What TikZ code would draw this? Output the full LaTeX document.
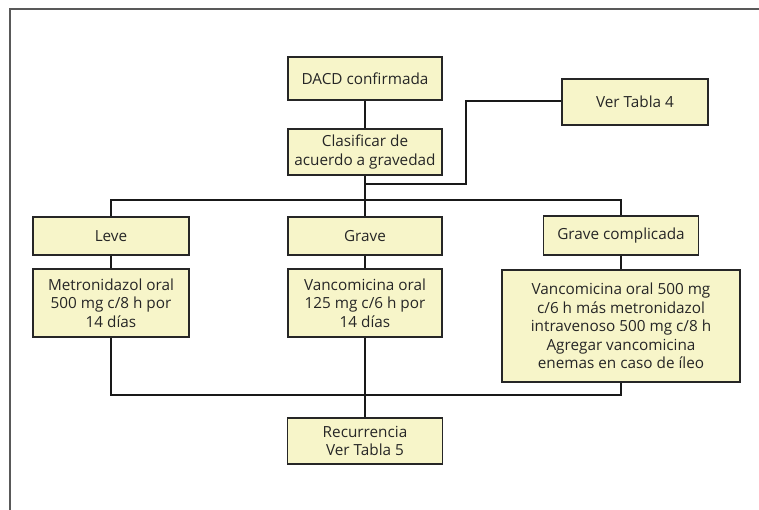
\documentclass[tikz,border=0pt]{standalone}
\usepackage{fontspec}
\setmainfont{Open Sans}
\begin{document}
\begin{tikzpicture}[x=1pt,y=-1pt,
  box/.style={draw=black!85,line width=1.2pt,fill=boxfill,align=center,inner sep=0pt,
    font=\fontsize{15.3}{18.4}\selectfont,text=black!85},
  conn/.style={draw=black!90,line width=1.6pt},
  frame/.style={draw=black!65,line width=1.5pt}]
\definecolor{boxfill}{HTML}{F7F5C9}
\useasboundingbox (0,0) rectangle (759,509);
\draw[frame] (760,9) -- (10,9) -- (10,510);
% nodes
\node[box,minimum width=154pt,minimum height=43pt] (dacd) at (365,78.5) {DACD confirmada};
\node[box,minimum width=154pt,minimum height=46pt] (clas) at (365,152) {Clasificar de\\acuerdo a gravedad};
\node[box,minimum width=146pt,minimum height=46pt] (tab4) at (635,102) {Ver Tabla 4};
\node[box,minimum width=156pt,minimum height=38pt] (leve) at (111,236) {Leve};
\node[box,minimum width=156pt,minimum height=68pt] (metro) at (111,303) {Metronidazol oral\\500 mg c/8 h por\\14 días};
\node[box,minimum width=154pt,minimum height=38pt] (grave) at (365,236) {Grave};
\node[box,minimum width=154pt,minimum height=68pt] (vanc) at (365,303) {Vancomicina oral\\125 mg c/6 h por\\14 días};
\node[box,minimum width=155pt,minimum height=39pt] (gc) at (621,235.5) {Grave complicada};
\node[box,minimum width=238pt,minimum height=112pt] (big) at (621,326) {Vancomicina oral 500 mg\\c/6 h más metronidazol\\intravenoso 500 mg c/8 h\\Agregar vancomicina\\enemas en caso de íleo};
\node[box,minimum width=155pt,minimum height=46pt] (rec) at (365,441) {Recurrencia\\Ver Tabla 5};
% coordinates
\coordinate (tb) at (365,200);
\coordinate (tl) at (111,200);
\coordinate (tr) at (621,200);
\coordinate (bb) at (365,395);
\coordinate (bl) at (111,395);
\coordinate (br) at (621,395);
\coordinate (t4a) at (466,101);
\coordinate (t4b) at (466,184);
\coordinate (t4c) at (365,184);
% connectors
\draw[conn] (dacd) -- (clas);
\draw[conn] (clas) -- (tb);
\draw[conn] (leve.north) -- (tl) -- (tr) -- (gc.north);
\draw[conn] (tb) -- (grave.north);
\draw[conn] (leve) -- (metro);
\draw[conn] (grave) -- (vanc);
\draw[conn] (gc) -- (big);
\draw[conn] (metro.south) -- (bl) -- (br) -- (big.south);
\draw[conn] (vanc.south) -- (rec.north);
\draw[conn] (tab4.west |- t4a) -- (t4a) -- (t4b) -- (t4c);
\end{tikzpicture}
\end{document}
